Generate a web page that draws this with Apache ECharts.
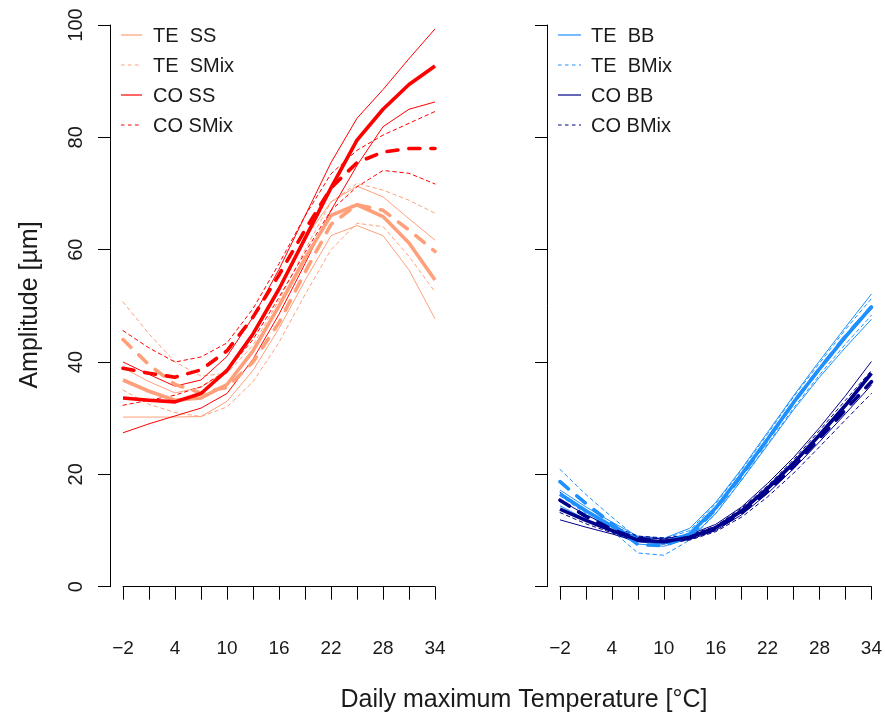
<!DOCTYPE html>
<html>
<head>
<meta charset="utf-8">
<script src="https://cdn.jsdelivr.net/npm/echarts@6/dist/echarts.min.js"></script>
<style>
  html, body { margin: 0; padding: 0; background: #fff; }
  #chart { width: 885px; height: 716px; }
</style>
</head>
<body>
<div id="chart"></div>
<script>
// Daily maximum temperature grid (°C)
const temps = [-2, 1, 4, 7, 10, 13, 16, 19, 22, 25, 28, 31, 34];

// Left panel: SS / SMix, mean with lower and upper bounds
const teSS      = [36.8, 34.8, 33.2, 33.6, 36.0, 42.0, 50.0, 58.5, 66.1, 68.0, 65.9, 61.2, 54.6];
const teSSLo    = [30.2, 30.2, 30.2, 30.3, 33.0, 38.5, 46.0, 54.5, 62.5, 64.3, 62.5, 56.4, 47.7];
const teSSHi    = [39.0, 36.5, 34.5, 35.5, 38.5, 45.0, 53.0, 62.0, 68.5, 71.3, 69.4, 65.5, 61.7];
const teSMix    = [44.0, 39.5, 36.0, 34.5, 35.5, 40.0, 47.0, 56.0, 64.5, 68.0, 67.0, 63.5, 59.7];
const teSMixLo  = [35.0, 32.5, 31.0, 30.3, 32.0, 36.5, 43.5, 52.0, 60.0, 64.7, 64.1, 58.8, 52.5];
const teSMixHi  = [50.7, 45.0, 40.0, 37.5, 38.0, 43.0, 51.0, 60.0, 68.5, 71.8, 70.6, 68.8, 66.5];
const coSS      = [33.6, 33.2, 32.9, 34.4, 38.5, 45.0, 53.0, 62.0, 71.0, 79.5, 85.0, 89.4, 92.7];
const coSSLo    = [27.4, 29.0, 30.4, 31.8, 34.4, 40.5, 48.5, 57.5, 67.0, 75.0, 81.9, 85.0, 86.3];
const coSSHi    = [40.0, 37.8, 35.7, 36.8, 41.0, 48.0, 56.5, 66.0, 75.5, 83.4, 88.5, 94.0, 99.3];
const coSMix    = [38.9, 38.0, 37.3, 38.6, 42.0, 48.0, 55.5, 63.5, 71.0, 75.5, 77.4, 78.0, 78.0];
const coSMixLo  = [32.3, 33.2, 34.1, 35.6, 38.5, 44.0, 51.5, 59.5, 67.0, 71.2, 74.1, 73.6, 71.7];
const coSMixHi  = [45.6, 42.5, 40.0, 40.9, 43.4, 49.5, 57.5, 66.0, 73.5, 77.7, 80.4, 82.5, 84.6];

// Right panel: BB / BMix, mean with lower and upper bounds
const teBB      = [16.5, 13.5, 10.8, 8.4, 7.8, 9.4, 14.0, 20.0, 26.3, 32.8, 38.8, 44.5, 49.8];
const teBBLo    = [14.4, 12.0, 9.8, 7.6, 7.2, 8.6, 13.0, 19.0, 25.2, 31.5, 37.3, 42.6, 47.6];
const teBBHi    = [17.2, 14.2, 11.5, 9.0, 8.6, 10.4, 15.0, 21.0, 27.5, 34.0, 40.2, 46.2, 52.1];
const teBMix    = [18.7, 14.8, 11.2, 7.5, 7.3, 9.0, 13.8, 19.8, 26.2, 32.8, 38.8, 44.6, 49.8];
const teBMixLo  = [16.2, 13.0, 10.0, 6.0, 5.6, 8.3, 13.0, 19.0, 25.4, 31.8, 37.7, 43.2, 48.3];
const teBMixHi  = [20.9, 16.4, 12.4, 8.6, 8.5, 10.0, 14.8, 20.8, 27.2, 33.8, 39.8, 45.8, 51.3];
const coBB      = [13.8, 11.8, 10.0, 8.3, 8.0, 8.8, 10.5, 13.5, 17.5, 22.0, 27.0, 32.3, 38.0];
const coBBLo    = [11.9, 10.6, 9.4, 8.0, 7.6, 8.4, 10.0, 12.8, 16.6, 21.0, 25.8, 30.8, 35.9];
const coBBHi    = [15.4, 12.8, 10.6, 8.8, 8.5, 9.3, 11.1, 14.2, 18.4, 23.0, 28.3, 34.0, 40.1];
const coBMix    = [15.4, 12.5, 10.2, 8.5, 8.1, 8.7, 10.3, 13.2, 17.0, 21.4, 26.4, 31.5, 36.5];
const coBMixLo  = [13.2, 11.2, 9.6, 8.1, 7.7, 8.3, 9.8, 12.4, 16.0, 20.2, 24.9, 29.7, 34.4];
const coBMixHi  = [16.8, 13.6, 10.9, 9.0, 8.7, 9.2, 10.8, 14.0, 18.0, 22.6, 27.8, 33.2, 38.5];

const yTicks = { min: 0, max: 100, step: 20 };

// Legend entries per panel
const leftKeys  = ['TE  SS', 'TE  SMix', 'CO SS', 'CO SMix'];
const rightKeys = ['TE  BB', 'TE  BMix', 'CO BB', 'CO BMix'];

const SALMON = '#FFA07A', RED = '#FF0000', DODGER = '#1E90FF', NAVY = '#00008B';
const FONT = 'Liberation Sans, Arial, Helvetica, sans-serif';
const INK = '#1a1a1a';
const THIN_DASH = [3.5, 3.5];
const THICK_DASH = [11, 11];

function lineSeries(name, data, color, dashed, thick, panel) {
  return {
    name: name,
    type: 'line',
    xAxisIndex: panel,
    yAxisIndex: panel,
    data: data,
    symbol: 'none',
    silent: true,
    animation: false,
    lineStyle: {
      color: color,
      width: thick ? 3.6 : 1,
      type: dashed ? (thick ? THICK_DASH : THIN_DASH) : 'solid',
      cap: dashed ? 'round' : 'butt',
      join: 'round'
    },
    z: thick ? 3 : 2
  };
}

function group(label, mean, lo, hi, color, dashed, panel) {
  return [
    lineSeries(label + ' lower', lo, color, dashed, false, panel),
    lineSeries(label + ' upper', hi, color, dashed, false, panel),
    lineSeries(label, mean, color, dashed, true, panel)
  ];
}

const styles = [
  [SALMON, false], [SALMON, true], [RED, false], [RED, true]
];
const stylesR = [
  [DODGER, false], [DODGER, true], [NAVY, false], [NAVY, true]
];

const series = [].concat(
  group(leftKeys[0],  teSS,   teSSLo,   teSSHi,   SALMON, false, 0),
  group(leftKeys[1],  teSMix, teSMixLo, teSMixHi, SALMON, true,  0),
  group(leftKeys[2],  coSS,   coSSLo,   coSSHi,   RED,    false, 0),
  group(leftKeys[3],  coSMix, coSMixLo, coSMixHi, RED,    true,  0),
  group(rightKeys[0], teBB,   teBBLo,   teBBHi,   DODGER, false, 1),
  group(rightKeys[1], teBMix, teBMixLo, teBMixHi, DODGER, true,  1),
  group(rightKeys[2], coBB,   coBBLo,   coBBHi,   NAVY,   false, 1),
  group(rightKeys[3], coBMix, coBMixLo, coBMixHi, NAVY,   true,  1)
);

// Legend box: short key line followed by its label, one row per entry
function legendGraphics(keys, sty, x0, x1, textX) {
  const out = [];
  keys.forEach((k, i) => {
    const y = 35 + i * 30;
    out.push({
      type: 'line',
      shape: { x1: x0, y1: y, x2: x1, y2: y },
      style: {
        stroke: sty[i][0],
        lineWidth: 1.2,
        lineDash: sty[i][1] ? THIN_DASH : null
      },
      silent: true
    });
    out.push({
      type: 'text',
      x: textX, y: y + 1,
      style: {
        text: k,
        font: '20px ' + FONT,
        fill: INK,
        align: 'left',
        verticalAlign: 'middle'
      },
      silent: true
    });
  });
  return out;
}

function xAxis(panel) {
  return {
    type: 'category',
    gridIndex: panel,
    data: temps,
    boundaryGap: false,
    offset: 20,
    axisLine: { lineStyle: { color: '#000', width: 1 } },
    axisTick: { length: 13, interval: 0, lineStyle: { color: '#000' } },
    axisLabel: {
      interval: 1,
      margin: 33,
      fontFamily: FONT,
      fontSize: 19,
      color: INK,
      formatter: v => String(v).replace('-', '\u2212')
    },
    splitLine: { show: false }
  };
}

function yAxis(panel) {
  return {
    type: 'value',
    gridIndex: panel,
    min: yTicks.min,
    max: yTicks.max,
    interval: yTicks.step,
    offset: 13,
    axisLine: { show: true, lineStyle: { color: '#000', width: 1 } },
    axisTick: { show: true, length: 12, lineStyle: { color: '#000' } },
    axisLabel: {
      show: panel === 0,
      rotate: 90,
      margin: 24,
      fontFamily: FONT,
      fontSize: 20,
      color: INK
    },
    splitLine: { show: false }
  };
}

const chart = echarts.init(document.getElementById('chart'), null, { renderer: 'canvas' });
chart.setOption({
  backgroundColor: '#fff',
  animation: false,
  grid: [
    { left: 123, top: 25, width: 312, height: 561.7 },
    { left: 560, top: 25, width: 312, height: 561.7 }
  ],
  xAxis: [xAxis(0), xAxis(1)],
  yAxis: [yAxis(0), yAxis(1)],
  graphic: [].concat(
    legendGraphics(leftKeys, styles, 121, 142, 153),
    legendGraphics(rightKeys, stylesR, 558, 581, 591),
    [
      {
        type: 'text',
        x: 524, y: 700,
        style: {
          text: 'Daily maximum Temperature [°C]',
          font: '25px ' + FONT,
          fill: INK,
          align: 'center',
          verticalAlign: 'middle'
        }
      },
      {
        type: 'text',
        x: 30, y: 305,
        rotation: Math.PI / 2,
        style: {
          text: 'Amplitude [µm]',
          font: '25px ' + FONT,
          fill: INK,
          align: 'center',
          verticalAlign: 'middle'
        }
      }
    ]
  ),
  series: series
});
</script>
</body>
</html>
